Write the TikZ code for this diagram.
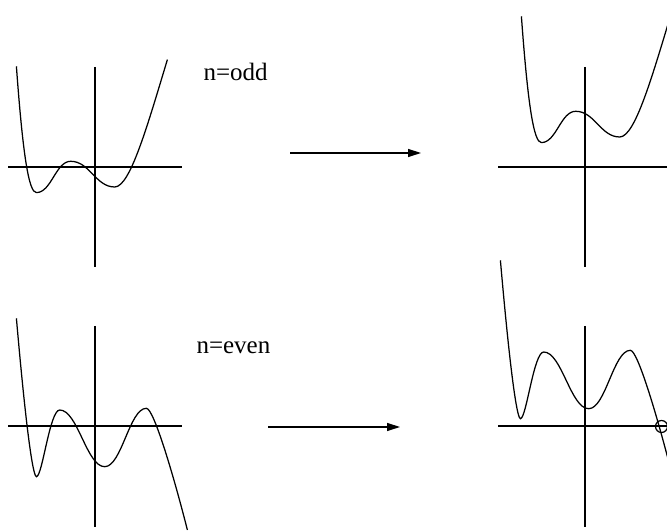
\documentclass[tikz,border=0pt]{standalone}
\usepackage{fontspec}
\setmainfont{Liberation Serif}
\usetikzlibrary{arrows.meta}

\begin{document}
\begin{tikzpicture}[x=0.4pt,y=-0.4pt,
    axis/.style={line width=0.5pt},
    curve/.style={line width=0.5pt},
    flow/.style={line width=0.5pt,-{Triangle[length=5.2pt,width=3.2pt]}},
    lbl/.style={anchor=base west,inner sep=0pt,font=\fontsize{10}{12}\selectfont}]
    \useasboundingbox (0,0) rectangle (667,531);
    \clip (0,0) rectangle (667,531);

    % n odd: axes origin / curve origin
    \foreach \ox/\oy/\cx/\cy in {95/167/95/167, 585/167/600/117} {
        \draw[axis] (\ox-87,\oy) -- (\ox+87,\oy);
        \draw[axis] (\ox,\oy-100) -- (\ox,\oy+100);
        \begin{scope}[shift={(\cx,\cy)}]
            \draw[curve] (-78.6,-100.7) .. controls (-72,-10) and (-66,25.6) .. (-58.6,25.6)
                .. controls (-43.6,25.6) and (-39.3,-5.7) .. (-24.3,-5.7)
                .. controls (-5.3,-5.7) and (0.7,20) .. (19.7,20)
                .. controls (35,20) and (52,-40) .. (72.4,-107.4);
        \end{scope}
    }

    % n even
    \foreach \ox/\oy/\cx/\cy in {95/426/95/426, 585/426/579/368} {
        \draw[axis] (\ox-87,\oy) -- (\ox+87,\oy);
        \draw[axis] (\ox,\oy-100) -- (\ox,\oy+101);
        \begin{scope}[shift={(\cx,\cy)}]
            \draw[curve] (-78.6,-107.7) .. controls (-67,25) and (-61,50.7) .. (-58.6,50.7)
                .. controls (-52.6,50.7) and (-45.3,-16) .. (-35.3,-16)
                .. controls (-17.3,-16) and (-8.3,40.7) .. (9.7,40.7)
                .. controls (26.7,40.7) and (34.4,-17.7) .. (51.4,-17.7)
                .. controls (59,-17.7) and (80,55) .. (92.4,104);
        \end{scope}
    }
    \draw[line width=0.5pt] (661.5,426.5) circle (6);

    \node[lbl] (odd) at (203,81) {n=odd};
    \node[lbl] (even) at (196,354) {n=even};

    \coordinate (oddA) at (290,153);
    \coordinate (oddB) at (421,153);
    \coordinate (evenA) at (268,427);
    \coordinate (evenB) at (400,427);
    \draw[flow] (oddA) -- (oddB);
    \draw[flow] (evenA) -- (evenB);
\end{tikzpicture}
\end{document}
